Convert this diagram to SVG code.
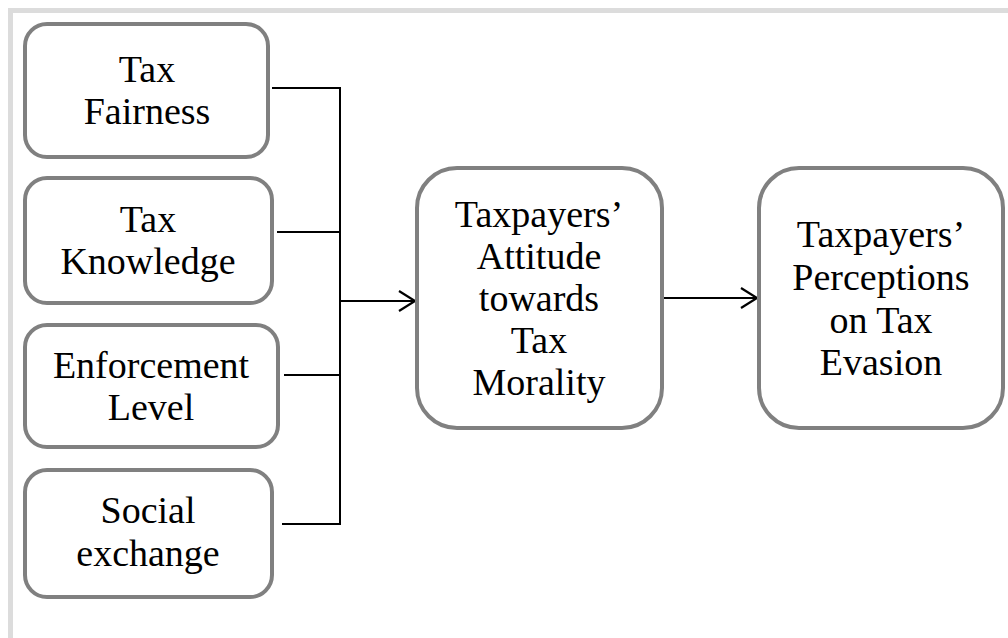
<svg xmlns="http://www.w3.org/2000/svg" width="1008" height="638" viewBox="0 0 1008 638">
<defs>
<style>
.box{fill:#fff;stroke:#808080;stroke-width:4}
.t{font-family:"Liberation Serif","Times New Roman",serif;font-size:38px;fill:#000;text-anchor:middle}
.c{fill:none;stroke:#000;stroke-width:2}
</style>
<marker id="arr" markerWidth="20" markerHeight="24" refX="17" refY="12" orient="auto" markerUnits="userSpaceOnUse">
<path d="M1,2 L17,12 L1,22" fill="none" stroke="#000" stroke-width="2.2"/>
</marker>
</defs>
<rect width="1008" height="638" fill="#fff"/>
<g id="frame" fill="#dcdcdc">
<rect x="8" y="8" width="1000" height="5"/>
<rect x="8" y="8" width="5" height="630"/>
</g>
<g id="connectors">
<path class="c" d="M272,88 H340 V524 H282"/>
<path class="c" d="M277,232 H340"/>
<path class="c" d="M284,375 H340"/>
<path class="c" d="M340,301 H415" marker-end="url(#arr)"/>
<path class="c" d="M662,298 H757" marker-end="url(#arr)"/>
</g>
<g id="n1"><rect class="box" x="25" y="24" width="243" height="133" rx="22"/>
<text class="t" x="147" y="82">Tax</text><text class="t" x="147" y="124">Fairness</text></g>
<g id="n2"><rect class="box" x="25" y="178" width="247" height="125" rx="22"/>
<text class="t" x="148" y="232">Tax</text><text class="t" x="148" y="274">Knowledge</text></g>
<g id="n3"><rect class="box" x="25" y="325" width="253" height="122" rx="22"/>
<text class="t" x="151" y="378">Enforcement</text><text class="t" x="151" y="420">Level</text></g>
<g id="n4"><rect class="box" x="25" y="470" width="247" height="127" rx="22"/>
<text class="t" x="148" y="523">Social</text><text class="t" x="148" y="566">exchange</text></g>
<g id="n5"><rect class="box" x="417" y="168" width="245" height="260" rx="40"/>
<text class="t" x="539" y="227">Taxpayers’</text><text class="t" x="539" y="269">Attitude</text><text class="t" x="539" y="311">towards</text><text class="t" x="539" y="353">Tax</text><text class="t" x="539" y="395">Morality</text></g>
<g id="n6"><rect class="box" x="759" y="168" width="244" height="260" rx="40"/>
<text class="t" x="881" y="247">Taxpayers’</text><text class="t" x="881" y="290">Perceptions</text><text class="t" x="881" y="333">on Tax</text><text class="t" x="881" y="375">Evasion</text></g>
</svg>
